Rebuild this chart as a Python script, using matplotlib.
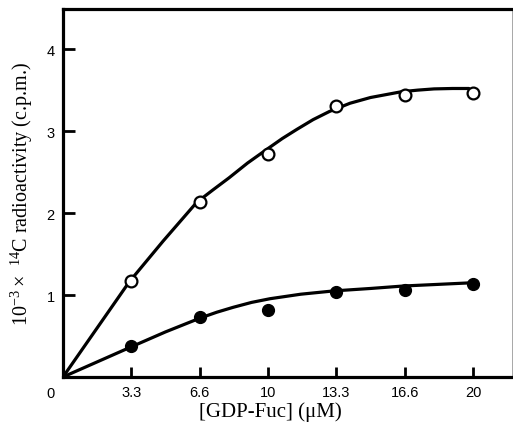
import matplotlib.pyplot as plt

plt.rcParams['mathtext.default'] = 'regular'

# measured points
conc = [10 / 3, 20 / 3, 10, 40 / 3, 50 / 3, 20]
open_y = [1.17, 2.14, 2.72, 3.31, 3.44, 3.46]
closed_y = [0.38, 0.73, 0.82, 1.04, 1.06, 1.13]

# fitted curves
fit_open_x = [0, 3.23, 4.89, 6.52, 7.3, 8.1, 9.0, 9.9, 10.7, 11.4, 12.2, 13.0, 14.0,
              15.0, 16.5, 17.3, 18.1, 19.0, 19.8]
fit_open_y = [0, 1.16, 1.66, 2.13, 2.28, 2.43, 2.61, 2.77, 2.91, 3.02, 3.14, 3.24, 3.34,
              3.41, 3.48, 3.50, 3.515, 3.52, 3.52]
fit_closed_x = [0, 3.35, 5.0, 6.7, 7.5, 8.3, 9.2, 10.1, 11.6, 13.2, 15.0, 16.6, 18.3, 20]
fit_closed_y = [0, 0.37, 0.55, 0.72, 0.79, 0.85, 0.91, 0.955, 1.01, 1.05, 1.08, 1.11, 1.13, 1.15]

xtick_labels = ['3.3', '6.6', '10', '13.3', '16.6', '20']
yticks = [1, 2, 3, 4]

fig = plt.figure(figsize=(5.13, 4.27), dpi=100)
ax = fig.add_axes([0.1228, 0.1148, 0.8752, 0.8618])

ax.plot(fit_open_x, fit_open_y, color='black', lw=2.3, solid_capstyle='round',
        solid_joinstyle='round', zorder=2)
ax.plot(fit_closed_x, fit_closed_y, color='black', lw=2.3, solid_capstyle='round',
        solid_joinstyle='round', zorder=2)
ax.plot(conc, open_y, 'o', ms=8.5, mfc='white', mec='black', mew=1.6, zorder=3)
ax.plot(conc, closed_y, 'o', ms=8.5, mfc='black', mec='black', zorder=3)

ax.set_xlim(0, 21.9)
ax.set_ylim(0, 4.49)

ax.set_xticks(conc)
ax.set_xticklabels(xtick_labels, family='Liberation Sans', fontsize=10.5)
ax.set_yticks(yticks)
ax.set_yticklabels([str(v) for v in yticks], family='Liberation Sans', fontsize=10.5)
ax.tick_params(axis='x', direction='in', length=7.5, width=2, pad=6)
ax.tick_params(axis='y', direction='in', length=8.5, width=2, pad=6)
# shared origin label, sits left of the corner
ax.text(-0.6, -0.024, '0', transform=ax.get_xaxis_transform(), ha='center', va='top',
        family='Liberation Sans', fontsize=10.5)

for side in ['left', 'bottom', 'top']:
    ax.spines[side].set_linewidth(2.3)
ax.spines['right'].set_linewidth(0.6)
ax.spines['right'].set_color('0.6')

ax.set_xlabel('[GDP-Fuc] (μM)', family='Liberation Serif', fontsize=15)
ax.xaxis.set_label_coords(0.461, -0.066)
ax.set_ylabel(r'$10^{-3}\times$ $^{14}$C radioactivity (c.p.m.)', family='Liberation Serif', fontsize=14.5)
ax.yaxis.set_label_coords(-0.062, 0.5)

fig.savefig('out.png', dpi=100)
